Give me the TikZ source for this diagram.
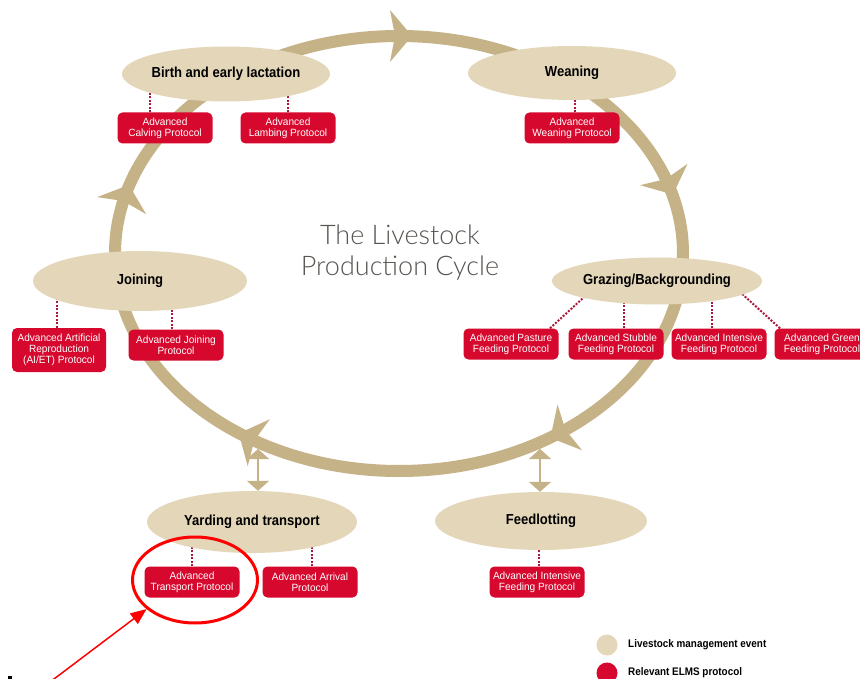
\documentclass[tikz,border=0pt]{standalone}
\usepackage{fontspec}
\setmainfont{Liberation Sans}
\newfontfamily\condfont[FakeStretch=0.9]{Liberation Sans}
\newfontfamily\protofont[FakeStretch=0.96]{Liberation Sans}
\newfontfamily\titlefont{Lato Light}
\usetikzlibrary{shapes.geometric,arrows.meta}
\pgfdeclarelayer{back}
\pgfsetlayers{back,main}

\definecolor{ringtan}{RGB}{198,178,135}
\definecolor{eventfill}{RGB}{228,214,185}
\definecolor{protored}{RGB}{214,8,45}
\definecolor{dotred}{RGB}{170,25,60}
\definecolor{titlegray}{RGB}{88,84,80}

\tikzset{
  event/.style={ellipse, fill=eventfill, inner sep=0pt, text=black,
    font=\condfont\bfseries\fontsize{14.5}{16}\selectfont},
  proto/.style={rectangle, rounded corners=5pt, fill=protored, text=white,
    minimum width=95pt, minimum height=31pt, inner sep=1pt, align=center,
    font=\protofont\fontsize{10.5}{11}\selectfont},
  dotlink/.style={dotred, line width=2pt, dash pattern=on 2pt off 1.5pt},
  twoway/.style={ringtan, line width=2pt,
    {Triangle[width=22pt,length=10pt]}-{Triangle[width=22pt,length=10pt]}},
  legtext/.style={anchor=west, text=black,
    font=\condfont\bfseries\fontsize{11}{12}\selectfont},
}

\begin{document}
\begin{tikzpicture}[x=1pt,y=-1pt]
\clip (0,0) rectangle (860,679);

% management events
\node[event, minimum width=208pt, minimum height=55pt] (birth) at (226,74) {\makebox[0pt]{Birth and early lactation}};
\node[event, minimum width=208pt, minimum height=54pt] (weaning) at (572,73) {\makebox[0pt]{Weaning}};
\node[event, minimum width=214pt, minimum height=60pt] (joining) at (140,281) {\makebox[0pt]{Joining}};
\node[event, minimum width=210pt, minimum height=47pt] (grazing) at (657,281) {\makebox[0pt]{Grazing/Backgrounding}};
\node[event, minimum width=210pt, minimum height=62pt] (yarding) at (252,522) {\makebox[0pt]{Yarding and transport}};
\node[event, minimum width=212pt, minimum height=58pt] (feedlot) at (541,521) {\makebox[0pt]{Feedlotting}};

% protocols
\node[proto] (calving) at (165,128) {Advanced\\Calving Protocol};
\node[proto] (lambing) at (288,128) {Advanced\\Lambing Protocol};
\node[proto] (weanprot) at (572,128) {Advanced\\Weaning Protocol};
\node[proto, minimum width=94pt, minimum height=44pt] (aiet) at (59,350) {Advanced Artificial\\Reproduction\\(AI/ET) Protocol};
\node[proto] (joinprot) at (176,345) {Advanced Joining\\Protocol};
\node[proto] (pasture) at (511,344) {Advanced Pasture\\Feeding Protocol};
\node[proto] (stubble) at (616,344) {Advanced Stubble\\Feeding Protocol};
\node[proto] (intensive) at (719,344) {Advanced Intensive\\Feeding Protocol};
\node[proto] (green) at (822,344) {Advanced Green\\Feeding Protocol};
\node[proto] (transport) at (192,582) {Advanced\\Transport Protocol};
\node[proto] (arrival) at (310,582) {Advanced Arrival\\Protocol};
\node[proto] (feedprot) at (537,582) {Advanced Intensive\\Feeding Protocol};

% title
\node[font=\titlefont\fontsize{27}{31}\selectfont, text=titlegray, align=center] (title) at (400,253) {The Livestock\\Production Cycle};

% legend
\node[circle, fill=eventfill, minimum size=21pt, inner sep=0pt] (legev) at (607,645) {};
\node[legtext] (legevtext) at ([xshift=7pt]legev.east) {Livestock management event};
\node[circle, fill=protored, minimum size=21pt, inner sep=0pt] (legpr) at (607,673) {};
\node[legtext] (legprtext) at ([xshift=7pt]legpr.east) {Relevant ELMS protocol};

% highlight around the transport protocol
\node[draw=red, line width=3pt, ellipse, minimum width=125pt, minimum height=86pt] (hilite) at (195,580) {};
\coordinate (arrowfoot) at (50,682);
\draw[red, line width=1.5pt, -{Triangle[length=16pt,width=13pt]}] (arrowfoot) -- (hilite.211);
\fill[black] (8,676) rectangle (12,679);

\begin{pgfonlayer}{back}
  \fill[white] (0,0) rectangle (860,679);
  % cycle ring with its arrowheads
  \draw[ringtan, line width=12pt] (399,253.5) ellipse [x radius=284, y radius=217.5];
  \foreach \t in {90,19,-55,-121.5,165}{
    \begin{scope}[shift={({399+284*cos(\t)},{253.5-217.5*sin(\t)})},
                  rotate={atan2(-217.5*cos(\t),284*sin(\t))}]
      \fill[ringtan] (13,0) -- (-9,26) -- (-4,0) -- (-9,-26) -- cycle;
    \end{scope}
  }
  % two-way links between ring and side events
  \coordinate (ringY) at (258,449);
  \coordinate (ringF) at (540,449);
  \draw[twoway] (ringY) -- (ringY |- yarding.north);
  \draw[twoway] (ringF) -- (ringF |- feedlot.north);
  % dotted links from events to protocols
  \coordinate (d1) at ([xshift=-15pt]calving.north);
  \draw[dotlink] (d1) -- (d1 |- birth.center);
  \draw[dotlink] (lambing.north) -- (lambing.north |- birth.center);
  \coordinate (d3) at ([xshift=3pt]weanprot.north);
  \draw[dotlink] (d3) -- (d3 |- weaning.center);
  \coordinate (d4) at ([xshift=-2pt]aiet.north);
  \draw[dotlink] (d4) -- (d4 |- joining.center);
  \coordinate (d5) at ([xshift=-4pt]joinprot.north);
  \draw[dotlink] (d5) -- (d5 |- joining.center);
  \coordinate (g1) at ([xshift=39pt]pasture.north);
  \draw[dotlink] (g1) -- ++(36,-33);
  \coordinate (g2) at ([xshift=8pt]stubble.north);
  \draw[dotlink] (g2) -- (g2 |- grazing.center);
  \coordinate (g3) at ([xshift=-7pt]intensive.north);
  \draw[dotlink] (g3) -- (g3 |- grazing.center);
  \coordinate (g4) at ([xshift=-42pt]green.north);
  \draw[dotlink] (g4) -- ++(-42,-38);
  \draw[dotlink] (transport.north) -- (transport.north |- yarding.center);
  \coordinate (d6) at ([xshift=2pt]arrival.north);
  \draw[dotlink] (d6) -- (d6 |- yarding.center);
  \coordinate (d7) at ([xshift=2pt]feedprot.north);
  \draw[dotlink] (d7) -- (d7 |- feedlot.center);
\end{pgfonlayer}
\end{tikzpicture}
\end{document}
